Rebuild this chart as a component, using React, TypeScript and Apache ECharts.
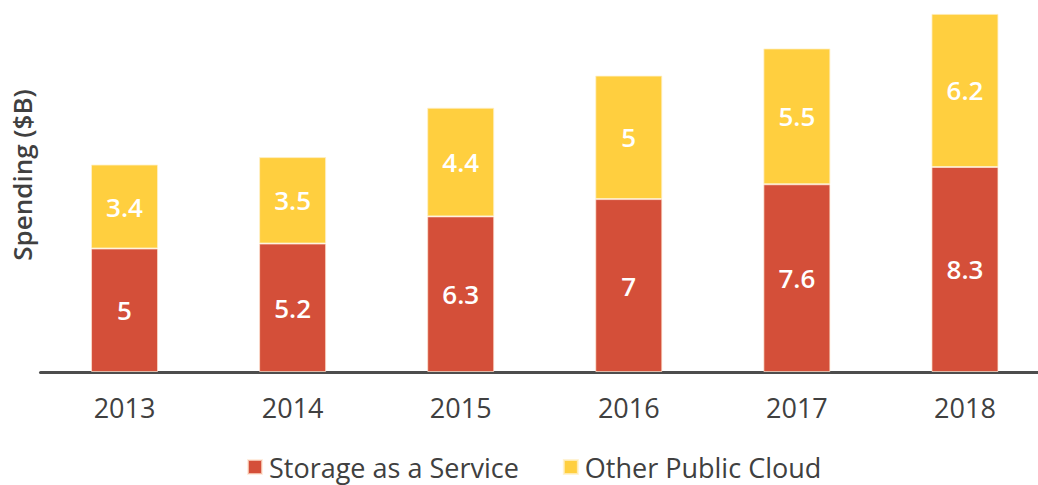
import React, { useEffect, useRef } from "react";
import * as echarts from "echarts";

const years = ["2013", "2014", "2015", "2016", "2017", "2018"];
const storageAsAService = [5, 5.2, 6.3, 7, 7.6, 8.3];
const otherPublicCloud = [3.4, 3.5, 4.4, 5, 5.5, 6.2];

const FONT = "'Open Sans', 'Noto Sans', sans-serif";

export default function App() {
  const ref = useRef<HTMLDivElement>(null);
  useEffect(() => {
    document.body.style.margin = "0";
    const chart = echarts.init(ref.current!, null, { renderer: "svg" });
    const labelStyle = {
      show: true,
      position: "inside",
      color: "#ffffff",
      fontSize: 26,
      fontWeight: 600,
      fontFamily: FONT,
    };
    chart.setOption({
      animation: false,
      grid: { left: 40.5, right: 0, top: 1.5, bottom: 113, containLabel: false },
      legend: {
        top: 452,
        left: 247,
        padding: 0,
        itemWidth: 14,
        itemHeight: 14,
        itemGap: 44,
        icon: "rect",
        textStyle: {
          fontSize: 27,
          lineHeight: 30,
          color: "#404040",
          fontFamily: FONT,
          padding: [0, 0, 0, 2],
        },
        data: ["Storage as a Service", "Other Public Cloud"],
      },
      xAxis: {
        type: "category",
        data: years,
        axisLine: { show: true, lineStyle: { color: "#4d4d4d", width: 3 } },
        axisTick: { show: false },
        axisLabel: { fontSize: 27, color: "#404040", fontFamily: FONT, margin: 22 },
      },
      yAxis: {
        type: "value",
        min: 0,
        max: 15,
        show: false,
        splitLine: { show: false },
      },
      graphic: [
        {
          type: "text",
          x: 22,
          y: 175,
          rotation: Math.PI / 2,
          style: {
            text: "Spending ($B)",
            fontSize: 26,
            fontWeight: 600,
            fontFamily: FONT,
            fill: "#404040",
            align: "center",
            verticalAlign: "middle",
          },
        },
      ],
      series: [
        {
          name: "Storage as a Service",
          type: "bar",
          stack: "total",
          data: storageAsAService,
          barWidth: 67,
          itemStyle: { color: "#d44f39", borderColor: "rgba(255,230,210,0.7)", borderWidth: 1 },
          label: labelStyle,
        },
        {
          name: "Other Public Cloud",
          type: "bar",
          stack: "total",
          data: otherPublicCloud,
          barWidth: 67,
          itemStyle: { color: "#ffcf3f", borderColor: "rgba(255,240,200,0.8)", borderWidth: 1 },
          label: labelStyle,
        },
      ],
    });
    return () => chart.dispose();
  }, []);
  return (
    <div style={{ width: 1038, height: 485, overflow: "hidden" }}>
      <div ref={ref} style={{ width: 1049, height: 485 }} />
    </div>
  );
}
